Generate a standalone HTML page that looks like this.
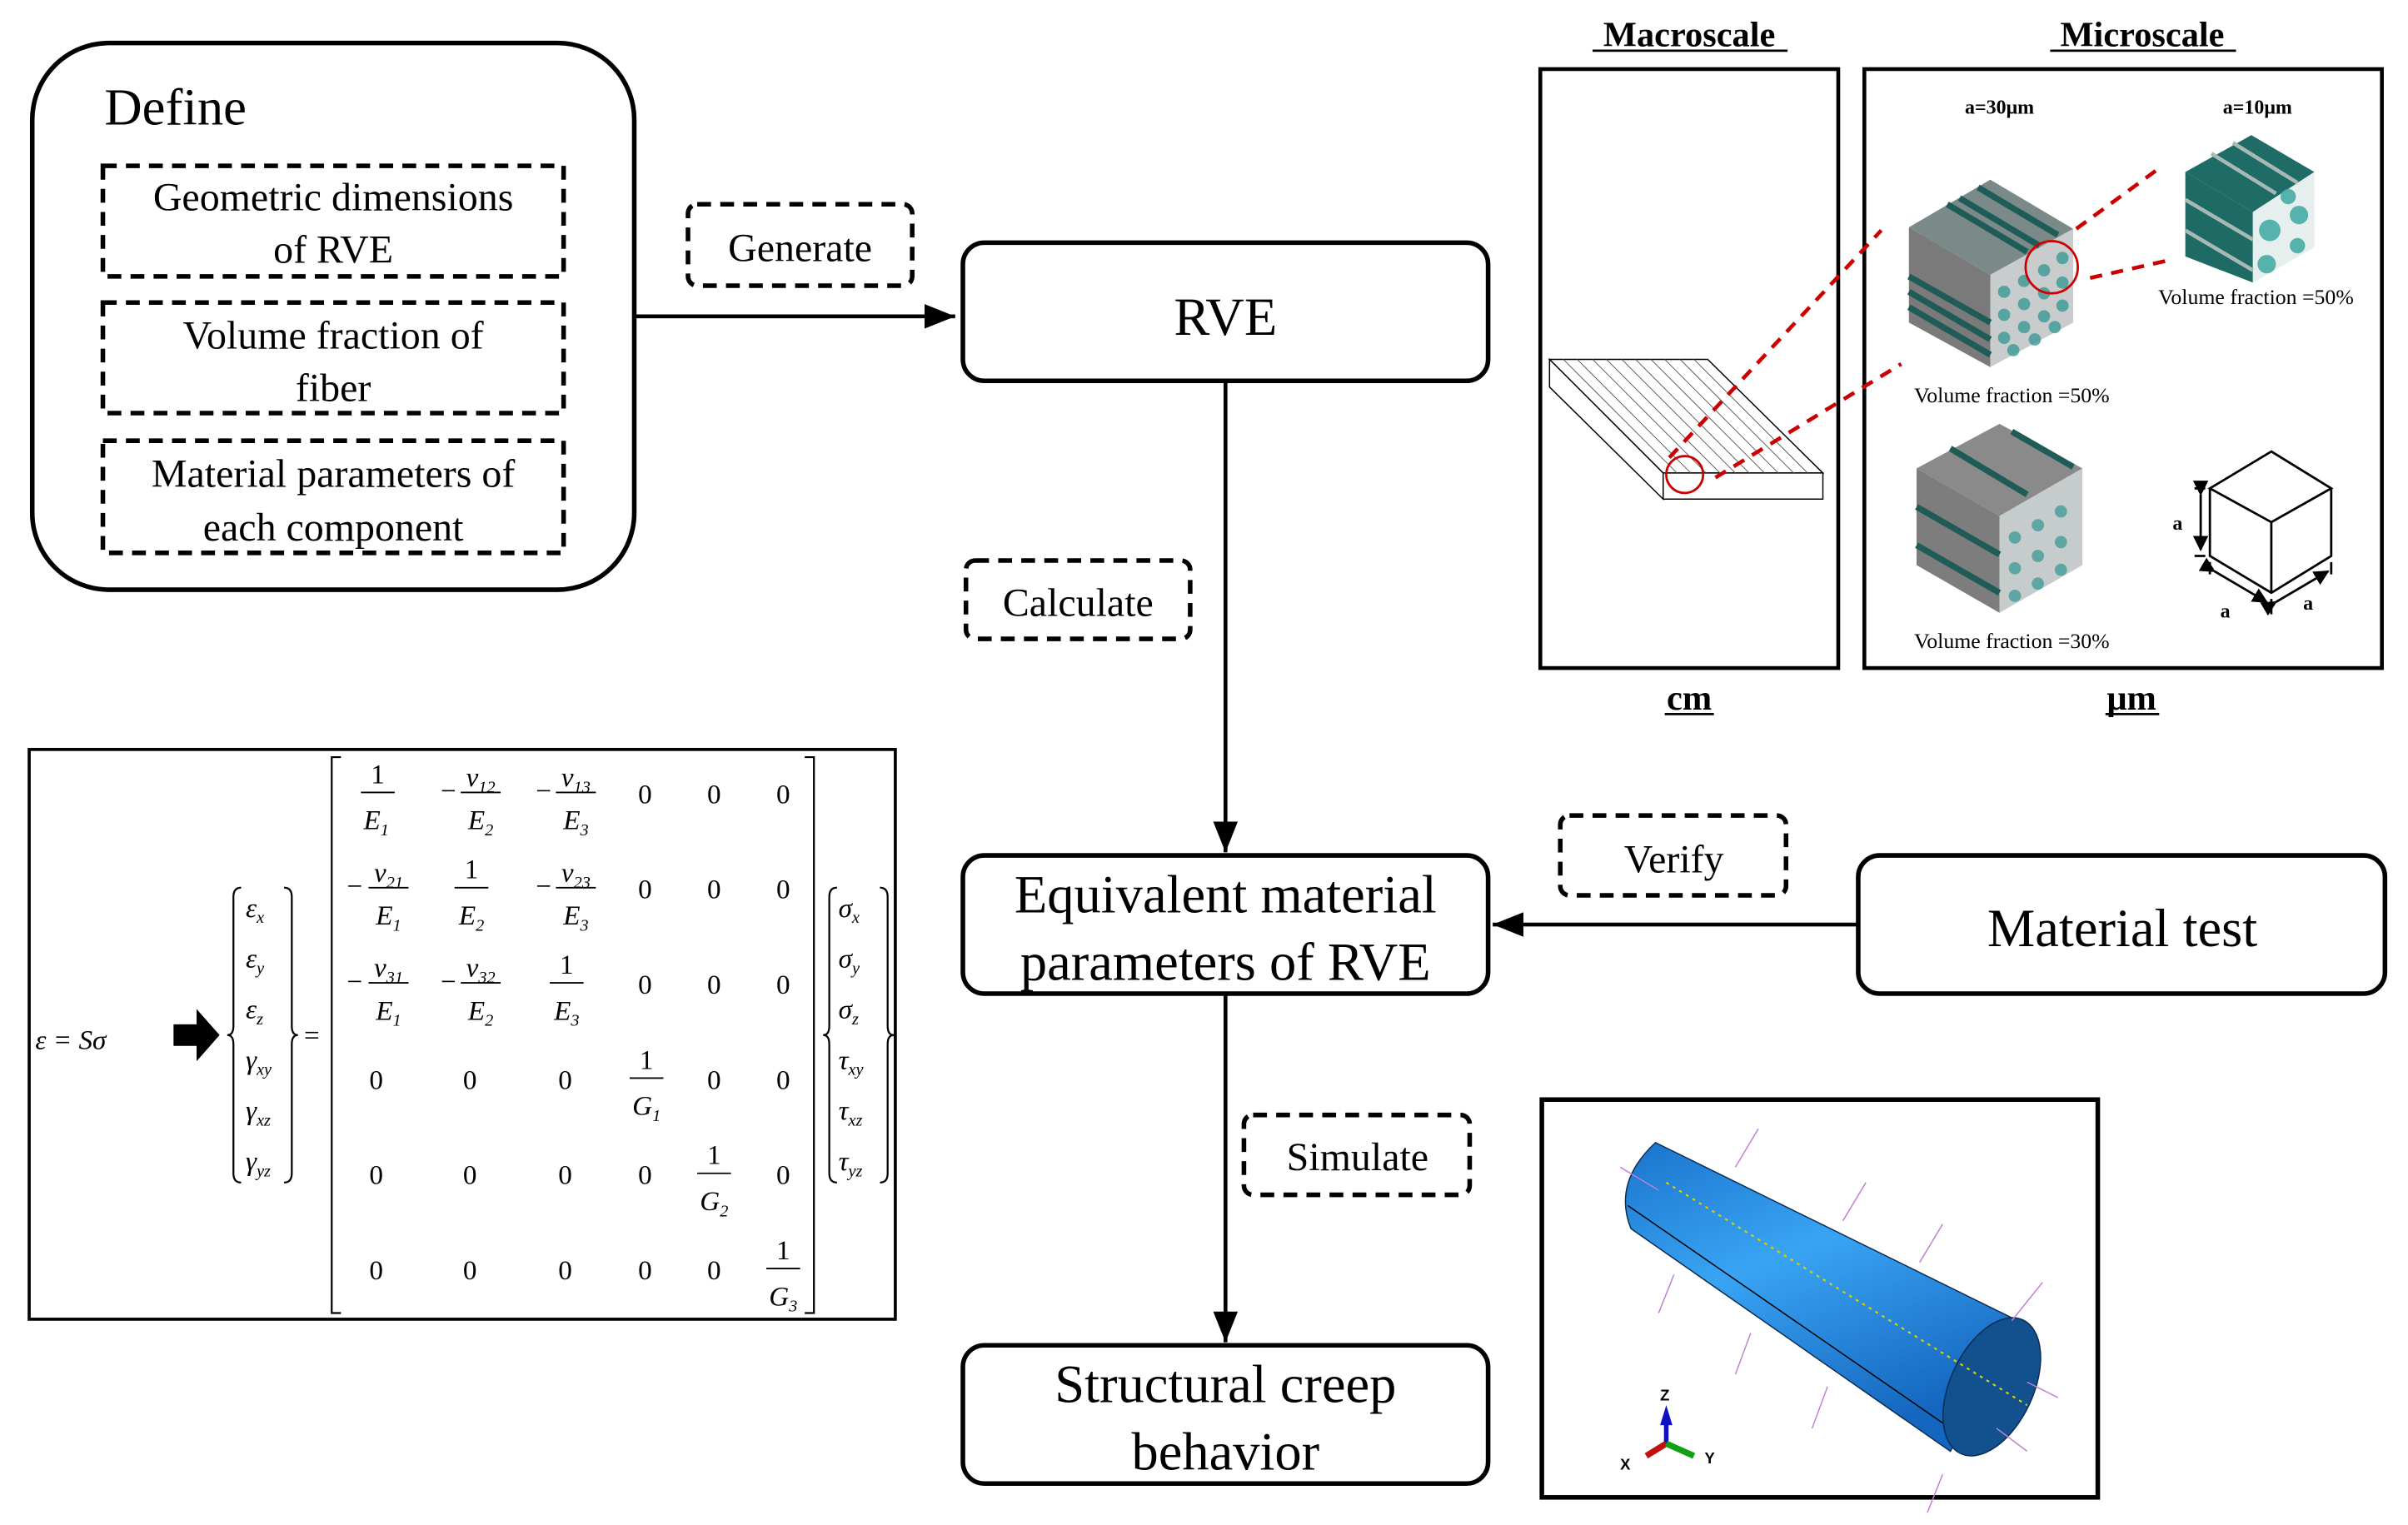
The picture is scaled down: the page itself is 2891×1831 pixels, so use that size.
<!DOCTYPE html>
<html><head><meta charset="utf-8"><style>
html,body{margin:0;padding:0;background:#fff;}
svg{display:block;}
text{font-family:"Liberation Serif",serif;}
.m{font-style:italic;font-size:18px;}
.n{font-size:18px;}
.s{font-size:11px;font-style:italic;}
</style></head><body>
<svg width="2891" height="1831" viewBox="0 0 1568 993" preserveAspectRatio="none" xmlns="http://www.w3.org/2000/svg">
<defs>
<marker id="ah" markerWidth="10" markerHeight="10" refX="9" refY="5" orient="auto" markerUnits="userSpaceOnUse"><path d="M0,0 L10,5 L0,10 z" fill="#000"/></marker>
<marker id="ah2" viewBox="0 0 20 16" markerWidth="20" markerHeight="16" refX="20" refY="8" orient="auto" markerUnits="userSpaceOnUse"><path d="M0,0 L20,8 L0,16 z" fill="#000"/></marker>
</defs>
<rect x="21" y="28" width="392" height="356" rx="50" fill="none" stroke="#000" stroke-width="3"/>
<text x="68" y="81" font-size="34">Define</text>
<g fill="none" stroke="#000" stroke-width="3" stroke-dasharray="9,6">
<rect x="67" y="108" width="300" height="72"/>
<rect x="67" y="197" width="300" height="72"/>
<rect x="67" y="287" width="300" height="73"/>
<rect x="448" y="133" width="146" height="53" rx="6"/>
<rect x="629" y="365" width="146" height="51" rx="6"/>
<rect x="1016" y="531" width="147" height="52" rx="6"/>
<rect x="810" y="726" width="147" height="52" rx="6"/>
</g>
<g font-size="26" text-anchor="middle">
<text x="217" y="137">Geometric dimensions</text>
<text x="217" y="171">of RVE</text>
<text x="217" y="227">Volume fraction of</text>
<text x="217" y="261">fiber</text>
<text x="217" y="317">Material parameters of</text>
<text x="217" y="352">each component</text>
<text x="521" y="170">Generate</text>
<text x="702" y="401">Calculate</text>
<text x="1090" y="568">Verify</text>
<text x="884" y="762">Simulate</text>
</g>
<g fill="none" stroke="#000" stroke-width="3">
<rect x="627" y="158" width="342" height="90" rx="14"/>
<rect x="627" y="557" width="342" height="90" rx="14"/>
<rect x="1210" y="557" width="343" height="90" rx="14"/>
<rect x="627" y="876" width="342" height="90" rx="14"/>
</g>
<g font-size="35" text-anchor="middle">
<text x="798" y="218">RVE</text>
<text x="798" y="594">Equivalent material</text>
<text x="798" y="638">parameters of RVE</text>
<text x="1382" y="616">Material test</text>
<text x="798" y="913">Structural creep</text>
<text x="798" y="957">behavior</text>
</g>
<g stroke="#000" stroke-width="2.5">
<line x1="413" y1="206" x2="622" y2="206" marker-end="url(#ah2)"/>
<line x1="798" y1="248" x2="798" y2="555" marker-end="url(#ah2)"/>
<line x1="798" y1="647" x2="798" y2="874" marker-end="url(#ah2)"/>
<line x1="1210" y1="602" x2="972" y2="602" marker-end="url(#ah2)"/>
</g>
<rect x="19" y="488" width="564" height="371" fill="none" stroke="#000" stroke-width="2"/>
<text x="23" y="683" class="m" font-size="22">ε = Sσ</text>
<path d="M113,667 h15 v-10 l15,17 l-15,17 v-10 h-15 z" fill="#000"/>
<g fill="none" stroke="#000" stroke-width="1.2">
<path d="M157,578 q-5,0 -5,6 v84 q0,6 -4,6 q4,0 4,6 v84 q0,6 5,6"/>
<path d="M185,578 q5,0 5,6 v84 q0,6 4,6 q-4,0 -4,6 v84 q0,6 -5,6"/>
<path d="M545,578 q-5,0 -5,6 v84 q0,6 -4,6 q4,0 4,6 v84 q0,6 5,6"/>
<path d="M573,578 q5,0 5,6 v84 q0,6 4,6 q-4,0 -4,6 v84 q0,6 -5,6"/>
<path d="M222,493 h-6 v362 h6"/>
<path d="M524,493 h6 v362 h-6"/>
</g>
<text x="198" y="680" class="n">=</text>
<g class="m">
<text x="160" y="597">ε<tspan class="s" dy="4">x</tspan></text>
<text x="160" y="630">ε<tspan class="s" dy="4">y</tspan></text>
<text x="160" y="663">ε<tspan class="s" dy="4">z</tspan></text>
<text x="160" y="696">γ<tspan class="s" dy="4">xy</tspan></text>
<text x="160" y="729">γ<tspan class="s" dy="4">xz</tspan></text>
<text x="160" y="762">γ<tspan class="s" dy="4">yz</tspan></text>
<text x="546" y="597">σ<tspan class="s" dy="4">x</tspan></text>
<text x="546" y="630">σ<tspan class="s" dy="4">y</tspan></text>
<text x="546" y="663">σ<tspan class="s" dy="4">z</tspan></text>
<text x="546" y="696">τ<tspan class="s" dy="4">xy</tspan></text>
<text x="546" y="729">τ<tspan class="s" dy="4">xz</tspan></text>
<text x="546" y="762">τ<tspan class="s" dy="4">yz</tspan></text>
</g>
<g stroke="#000" stroke-width="1">
<line x1="235" y1="516" x2="257" y2="516"/><line x1="300" y1="516" x2="326" y2="516"/><line x1="362" y1="516" x2="388" y2="516"/>
<line x1="240" y1="578" x2="266" y2="578"/><line x1="296" y1="578" x2="318" y2="578"/><line x1="362" y1="578" x2="388" y2="578"/>
<line x1="240" y1="640" x2="266" y2="640"/><line x1="300" y1="640" x2="326" y2="640"/><line x1="358" y1="640" x2="380" y2="640"/>
<line x1="410" y1="702" x2="432" y2="702"/><line x1="454" y1="764" x2="476" y2="764"/><line x1="499" y1="826" x2="521" y2="826"/>
</g>
<g class="n" text-anchor="middle">
<text x="246" y="510">1</text><text x="307" y="572">1</text><text x="369" y="634">1</text>
<text x="421" y="696">1</text><text x="465" y="758">1</text><text x="510" y="820">1</text>
<text x="420" y="523">0</text><text x="465" y="523">0</text><text x="510" y="523">0</text>
<text x="420" y="585">0</text><text x="465" y="585">0</text><text x="510" y="585">0</text>
<text x="420" y="647">0</text><text x="465" y="647">0</text><text x="510" y="647">0</text>
<text x="245" y="709">0</text><text x="306" y="709">0</text><text x="368" y="709">0</text><text x="465" y="709">0</text><text x="510" y="709">0</text>
<text x="245" y="771">0</text><text x="306" y="771">0</text><text x="368" y="771">0</text><text x="420" y="771">0</text><text x="510" y="771">0</text>
<text x="245" y="833">0</text><text x="306" y="833">0</text><text x="368" y="833">0</text><text x="420" y="833">0</text><text x="465" y="833">0</text>
<text x="292" y="521">−</text><text x="354" y="521">−</text>
<text x="231" y="583">−</text><text x="354" y="583">−</text>
<text x="231" y="645">−</text><text x="292" y="645">−</text>
</g>
<g class="m" text-anchor="middle">
<text x="245" y="540">E<tspan class="s" dy="4" font-style="normal">1</tspan></text>
<text x="313" y="540">E<tspan class="s" dy="4" font-style="normal">2</tspan></text>
<text x="375" y="540">E<tspan class="s" dy="4" font-style="normal">3</tspan></text>
<text x="313" y="512">ν<tspan class="s" dy="4" font-style="normal">12</tspan></text>
<text x="375" y="512">ν<tspan class="s" dy="4" font-style="normal">13</tspan></text>
<text x="253" y="574">ν<tspan class="s" dy="4" font-style="normal">21</tspan></text>
<text x="375" y="574">ν<tspan class="s" dy="4" font-style="normal">23</tspan></text>
<text x="253" y="602">E<tspan class="s" dy="4" font-style="normal">1</tspan></text>
<text x="307" y="602">E<tspan class="s" dy="4" font-style="normal">2</tspan></text>
<text x="375" y="602">E<tspan class="s" dy="4" font-style="normal">3</tspan></text>
<text x="253" y="636">ν<tspan class="s" dy="4" font-style="normal">31</tspan></text>
<text x="313" y="636">ν<tspan class="s" dy="4" font-style="normal">32</tspan></text>
<text x="253" y="664">E<tspan class="s" dy="4" font-style="normal">1</tspan></text>
<text x="313" y="664">E<tspan class="s" dy="4" font-style="normal">2</tspan></text>
<text x="369" y="664">E<tspan class="s" dy="4" font-style="normal">3</tspan></text>
<text x="421" y="726">G<tspan class="s" dy="4" font-style="normal">1</tspan></text>
<text x="465" y="788">G<tspan class="s" dy="4" font-style="normal">2</tspan></text>
<text x="510" y="850">G<tspan class="s" dy="4" font-style="normal">3</tspan></text>
</g>
<g font-size="23" font-weight="bold" text-anchor="middle">
<text x="1100" y="30">Macroscale</text>
<text x="1395" y="30">Microscale</text>
<text x="1100" y="462">cm</text>
<text x="1388" y="462">μm</text>
</g>
<g stroke="#000" stroke-width="1.5"><line x1="1037" y1="33" x2="1164" y2="33"/><line x1="1335" y1="33" x2="1456" y2="33"/><line x1="1084" y1="465" x2="1116" y2="465"/><line x1="1371" y1="465" x2="1406" y2="465"/></g>
<rect x="1003" y="45" width="194" height="390" fill="none" stroke="#000" stroke-width="2.5"/>
<rect x="1214" y="45" width="337" height="390" fill="none" stroke="#000" stroke-width="2.5"/>
<g stroke="#000" stroke-width="0.8" fill="#fff">
<polygon points="1009,234 1112,234 1187,308 1083,308"/>
<polygon points="1083,308 1187,308 1187,325 1083,325"/>
<polygon points="1009,234 1083,308 1083,325 1009,252"/>
</g>
<g stroke="#555" stroke-width="0.5">
<line x1="1018" y1="234" x2="1092" y2="308"/><line x1="1027" y1="234" x2="1101" y2="308"/><line x1="1037" y1="234" x2="1111" y2="308"/><line x1="1046" y1="234" x2="1120" y2="308"/><line x1="1056" y1="234" x2="1130" y2="308"/><line x1="1065" y1="234" x2="1139" y2="308"/><line x1="1075" y1="234" x2="1149" y2="308"/><line x1="1084" y1="234" x2="1158" y2="308"/><line x1="1094" y1="234" x2="1168" y2="308"/><line x1="1103" y1="234" x2="1177" y2="308"/>
</g>
<circle cx="1097" cy="309" r="12" fill="none" stroke="#c00" stroke-width="1.5"/>
<g stroke="#c00" stroke-width="2.5" stroke-dasharray="8,6">
<line x1="1087" y1="298" x2="1225" y2="150"/>
<line x1="1117" y1="311" x2="1238" y2="237"/>
<line x1="1352" y1="149" x2="1404" y2="111"/>
<line x1="1361" y1="181" x2="1410" y2="170"/>
</g>
<g>
<polygon points="1296,117 1350,149 1296,179 1243,148" fill="#7a8a88"/>
<polygon points="1243,148 1296,179 1296,239 1243,210" fill="#7a7a7a"/>
<polygon points="1296,179 1350,149 1350,210 1296,239" fill="#c8cccc"/>
<g stroke="#1f5c58" stroke-width="4">
<line x1="1268" y1="133" x2="1320" y2="164"/><line x1="1276" y1="129" x2="1328" y2="160"/><line x1="1288" y1="122" x2="1340" y2="153"/>
<line x1="1243" y1="190" x2="1296" y2="221"/><line x1="1243" y1="200" x2="1296" y2="231"/><line x1="1243" y1="180" x2="1296" y2="210"/>
</g>
<g fill="#3a9a96" opacity="0.8">
<circle cx="1305" cy="190" r="4"/><circle cx="1318" cy="183" r="4"/><circle cx="1331" cy="176" r="4"/><circle cx="1343" cy="168" r="4"/>
<circle cx="1305" cy="205" r="4"/><circle cx="1318" cy="198" r="4"/><circle cx="1331" cy="191" r="4"/><circle cx="1343" cy="184" r="4"/>
<circle cx="1305" cy="220" r="4"/><circle cx="1318" cy="213" r="4"/><circle cx="1331" cy="206" r="4"/><circle cx="1343" cy="199" r="4"/>
<circle cx="1311" cy="228" r="4"/><circle cx="1325" cy="221" r="4"/><circle cx="1338" cy="213" r="4"/>
</g>
</g>
<circle cx="1336" cy="174" r="17" fill="none" stroke="#c00" stroke-width="1.5"/>
<g>
<polygon points="1466,88 1507,112 1467,138 1423,112" fill="#1f6b66"/>
<polygon points="1423,112 1467,138 1467,184 1423,167" fill="#1e6a65"/>
<polygon points="1467,138 1507,112 1507,161 1467,184" fill="#e6eeee"/>
<g stroke="#a8b8b6" stroke-width="2.5">
<line x1="1440" y1="100" x2="1482" y2="126"/><line x1="1454" y1="93" x2="1496" y2="119"/>
<line x1="1423" y1="130" x2="1467" y2="156"/><line x1="1423" y1="150" x2="1467" y2="176"/>
</g>
<g fill="#3ea8a2" opacity="0.85">
<circle cx="1478" cy="150" r="7"/><circle cx="1497" cy="140" r="6"/><circle cx="1476" cy="172" r="6"/><circle cx="1496" cy="160" r="5"/><circle cx="1490" cy="128" r="5"/>
</g>
</g>
<g>
<polygon points="1302,276 1356,305 1302,336 1248,305" fill="#8a8a8a"/>
<polygon points="1248,305 1302,336 1302,399 1248,368" fill="#7d7d7d"/>
<polygon points="1302,336 1356,305 1356,368 1302,399" fill="#c6cbcb"/>
<g stroke="#1f5c58" stroke-width="4">
<line x1="1310" y1="281" x2="1350" y2="304"/><line x1="1270" y1="292" x2="1320" y2="322"/>
<line x1="1248" y1="330" x2="1302" y2="361"/><line x1="1248" y1="355" x2="1302" y2="386"/>
</g>
<g fill="#3a9a96" opacity="0.75">
<circle cx="1312" cy="350" r="4"/><circle cx="1327" cy="342" r="4"/><circle cx="1342" cy="333" r="4"/>
<circle cx="1312" cy="370" r="4"/><circle cx="1327" cy="362" r="4"/><circle cx="1342" cy="353" r="4"/>
<circle cx="1312" cy="388" r="4"/><circle cx="1327" cy="380" r="4"/><circle cx="1342" cy="371" r="4"/>
</g>
</g>
<g fill="none" stroke="#000" stroke-width="1.5">
<polygon points="1479,294 1518,318 1479,340 1439,318"/>
<polyline points="1439,318 1439,362 1479,386 1518,362 1518,318"/>
<line x1="1479" y1="340" x2="1479" y2="386"/>
<line x1="1429" y1="318" x2="1436" y2="318"/><line x1="1429" y1="362" x2="1436" y2="362"/>
<line x1="1433" y1="322" x2="1433" y2="358" marker-start="url(#ah)" marker-end="url(#ah)"/>
<line x1="1439" y1="366" x2="1439" y2="374"/><line x1="1479" y1="390" x2="1479" y2="400"/><line x1="1518" y1="366" x2="1518" y2="374"/>
<line x1="1442" y1="372" x2="1476" y2="392" marker-start="url(#ah)" marker-end="url(#ah)"/>
<line x1="1482" y1="392" x2="1516" y2="372" marker-start="url(#ah)" marker-end="url(#ah)"/>
</g>
<g font-size="13" font-weight="bold" text-anchor="middle">
<text x="1302" y="74">a=30μm</text>
<text x="1470" y="74">a=10μm</text>
<text x="1418" y="345">a</text>
<text x="1449" y="402">a</text>
<text x="1503" y="397">a</text>
</g>
<g font-size="14" text-anchor="middle">
<text x="1469" y="198">Volume fraction =50%</text>
<text x="1310" y="262">Volume fraction =50%</text>
<text x="1310" y="422">Volume fraction =30%</text>
</g>
<rect x="1004" y="716" width="362" height="259" fill="none" stroke="#000" stroke-width="3"/>
<defs><linearGradient id="cg" x1="0" y1="0" x2="0.5" y2="1"><stop offset="0" stop-color="#1a74cc"/><stop offset="0.45" stop-color="#39a4f4"/><stop offset="1" stop-color="#1566be"/></linearGradient></defs>
<path d="M1078,744 L1318,862 L1270,945 L1062,800 Q1050,770 1078,744 Z" fill="url(#cg)" stroke="#0a2a50" stroke-width="0.8"/>
<line x1="1060" y1="785" x2="1270" y2="930" stroke="#000" stroke-width="0.8"/>
<ellipse cx="1297" cy="903" rx="27" ry="48" transform="rotate(25 1297 903)" fill="#13508e" stroke="#0a2a50" stroke-width="0.8"/>
<line x1="1085" y1="770" x2="1320" y2="915" stroke="#d8d000" stroke-width="1.2" stroke-dasharray="2,3"/>
<g stroke="#c080d0" stroke-width="0.8">
<line x1="1130" y1="760" x2="1145" y2="735"/><line x1="1250" y1="822" x2="1265" y2="797"/><line x1="1200" y1="795" x2="1215" y2="770"/>
<line x1="1090" y1="830" x2="1080" y2="855"/><line x1="1140" y1="868" x2="1130" y2="895"/><line x1="1190" y1="903" x2="1180" y2="930"/><line x1="1265" y1="960" x2="1255" y2="985"/>
<line x1="1310" y1="860" x2="1330" y2="835"/><line x1="1320" y1="900" x2="1340" y2="910"/><line x1="1300" y1="930" x2="1320" y2="945"/>
<line x1="1055" y1="760" x2="1080" y2="775"/>
</g>
<polygon points="1085,915 1081,928 1089,928" fill="#1010c0"/><line x1="1085" y1="920" x2="1085" y2="940" stroke="#1010c0" stroke-width="3"/>
<line x1="1085" y1="940" x2="1072" y2="948" stroke="#c01010" stroke-width="4"/>
<line x1="1085" y1="940" x2="1103" y2="948" stroke="#10a010" stroke-width="4"/>
<g font-size="10" font-weight="bold">
<text x="1081" y="912" style="font-family:'Liberation Sans',sans-serif">Z</text>
<text x="1055" y="957" style="font-family:'Liberation Sans',sans-serif">X</text>
<text x="1110" y="953" style="font-family:'Liberation Sans',sans-serif">Y</text>
</g>
</svg>
</body></html>
